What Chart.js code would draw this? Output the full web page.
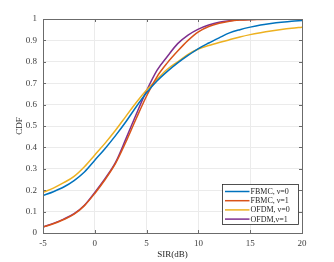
<!DOCTYPE html>
<html>
<head>
<meta charset="utf-8">
<script src="https://cdn.jsdelivr.net/npm/chart.js@4.4.1/dist/chart.umd.min.js"></script>
<style>
  html, body { margin: 0; padding: 0; background: #fff; }
  #wrap { width: 334px; height: 262px; }
</style>
</head>
<body>
<div id="wrap"><canvas id="cdf"></canvas></div>
<script>
const sirDb = [-5, -4, -3, -2, -1, 0, 1, 2, 3, 4, 5, 6, 7, 8, 9, 10, 11, 12, 13, 14, 15, 16, 17, 18, 19, 20];

const fbmcNu0 = [0.175, 0.193, 0.215, 0.245, 0.285, 0.34, 0.395, 0.455, 0.52, 0.59, 0.655, 0.71, 0.755, 0.795, 0.83, 0.862, 0.888, 0.912, 0.935, 0.95, 0.962, 0.972, 0.979, 0.985, 0.99, 0.993];
const fbmcNu1 = [0.028, 0.043, 0.063, 0.088, 0.128, 0.185, 0.25, 0.325, 0.425, 0.535, 0.64, 0.73, 0.795, 0.85, 0.9, 0.94, 0.965, 0.98, 0.99, 0.995, 0.997, 0.998, 0.999, 1, 1, 1];
const ofdmNu0 = [0.19, 0.21, 0.235, 0.265, 0.31, 0.365, 0.42, 0.48, 0.545, 0.61, 0.668, 0.718, 0.765, 0.8, 0.835, 0.86, 0.876, 0.89, 0.903, 0.916, 0.927, 0.936, 0.944, 0.951, 0.957, 0.962];
const ofdmNu1 = [0.028, 0.045, 0.065, 0.09, 0.13, 0.19, 0.255, 0.33, 0.44, 0.555, 0.665, 0.76, 0.825, 0.885, 0.925, 0.953, 0.972, 0.985, 0.992, 0.996, 0.998, 0.999, 1, 1, 1, 1];

const seriesNames = ['FBMC, \u03bd=0', 'FBMC, \u03bd=1', 'OFDM, \u03bd=0', 'OFDM,\u03bd=1'];
const seriesColors = ['#0072BD', '#D95319', '#EDB120', '#7E2F8E'];

const xTicks = [-5, 0, 5, 10, 15, 20];

const serif = '"Liberation Serif", "DejaVu Serif", serif';

function pts(ys) {
  return sirDb.map((x, i) => ({ x: x, y: ys[i] }));
}

// box around the axes, inward ticks and the legend inside the plot
const matlabAxes = {
  id: 'matlabAxes',
  afterDatasetsDraw(chart) {
    const ctx = chart.ctx;
    const a = chart.chartArea;
    const xs = chart.scales.x, ys = chart.scales.y;
    ctx.save();
    ctx.strokeStyle = '#6b6b6b';
    ctx.lineWidth = 1;
    ctx.beginPath();
    xs.ticks.forEach(t => {
      const px = Math.round(xs.getPixelForValue(t.value)) + 0.5;
      ctx.moveTo(px, a.bottom); ctx.lineTo(px, a.bottom - 3);
      ctx.moveTo(px, a.top); ctx.lineTo(px, a.top + 3);
    });
    ys.ticks.forEach(t => {
      const py = Math.round(ys.getPixelForValue(t.value)) + 0.5;
      ctx.moveTo(a.left, py); ctx.lineTo(a.left + 3, py);
      ctx.moveTo(a.right, py); ctx.lineTo(a.right - 3, py);
    });
    ctx.stroke();
    ctx.strokeRect(Math.round(a.left) + 0.5, Math.round(a.top) + 0.5,
      Math.round(a.right - a.left), Math.round(a.bottom - a.top));

    // legend
    const w = 76, h = 40;
    const lx = Math.round(a.right - 4 - w) + 0.5;
    const ly = Math.round(a.bottom - 9 - h) + 0.5;
    ctx.fillStyle = '#fff';
    ctx.fillRect(lx, ly, w, h);
    ctx.strokeStyle = '#262626';
    ctx.lineWidth = 0.8;
    ctx.strokeRect(lx, ly, w, h);
    ctx.font = '8px ' + serif;
    ctx.textBaseline = 'middle';
    chart.data.datasets.forEach((ds, i) => {
      const ry = ly + 7 + i * 9.2;
      ctx.strokeStyle = ds.borderColor;
      ctx.lineWidth = 1.5;
      ctx.beginPath();
      ctx.moveTo(lx + 2.5, ry);
      ctx.lineTo(lx + 27, ry);
      ctx.stroke();
      ctx.fillStyle = '#262626';
      ctx.fillText(ds.label, lx + 28, ry + 0.5);
    });
    ctx.restore();
  }
};

new Chart(document.getElementById('cdf'), {
  type: 'scatter',
  data: {
    datasets: [fbmcNu0, fbmcNu1, ofdmNu0, ofdmNu1].map((ys, i) => ({
      label: seriesNames[i],
      data: pts(ys),
      showLine: true,
      borderColor: seriesColors[i],
      backgroundColor: seriesColors[i],
      borderWidth: 1.5,
      pointRadius: 0,
      cubicInterpolationMode: 'monotone'
    }))
  },
  options: {
    responsive: true,
    maintainAspectRatio: false,
    animation: false,
    layout: { padding: { top: 19, right: 32, bottom: 0, left: 0 } },
    plugins: {
      legend: { display: false },
      tooltip: { enabled: false }
    },
    scales: {
      x: {
        type: 'linear',
        min: -5,
        max: 20,
        afterBuildTicks: s => { s.ticks = xTicks.map(v => ({ value: v })); },
        afterFit: s => { s.height = 29; },
        border: { display: false },
        grid: { color: '#ebebeb', drawTicks: false },
        ticks: { padding: 5, color: '#404040', font: { family: serif, size: 9 } },
        title: {
          display: true, text: 'SIR(dB)', color: '#262626',
          font: { family: serif, size: 9 }, padding: { top: 0, bottom: 2 }
        }
      },
      y: {
        min: 0,
        max: 1,
        ticks: {
          stepSize: 0.1, padding: 6, color: '#404040',
          font: { family: serif, size: 9 },
          callback: v => +v.toFixed(1)
        },
        afterFit: s => { s.width = 43; },
        border: { display: false },
        grid: { color: '#ebebeb', drawTicks: false },
        title: {
          display: true, text: 'CDF', color: '#262626',
          font: { family: serif, size: 9 }, padding: { top: 14, bottom: 0 }
        }
      }
    }
  },
  plugins: [matlabAxes]
});
</script>
</body>
</html>
